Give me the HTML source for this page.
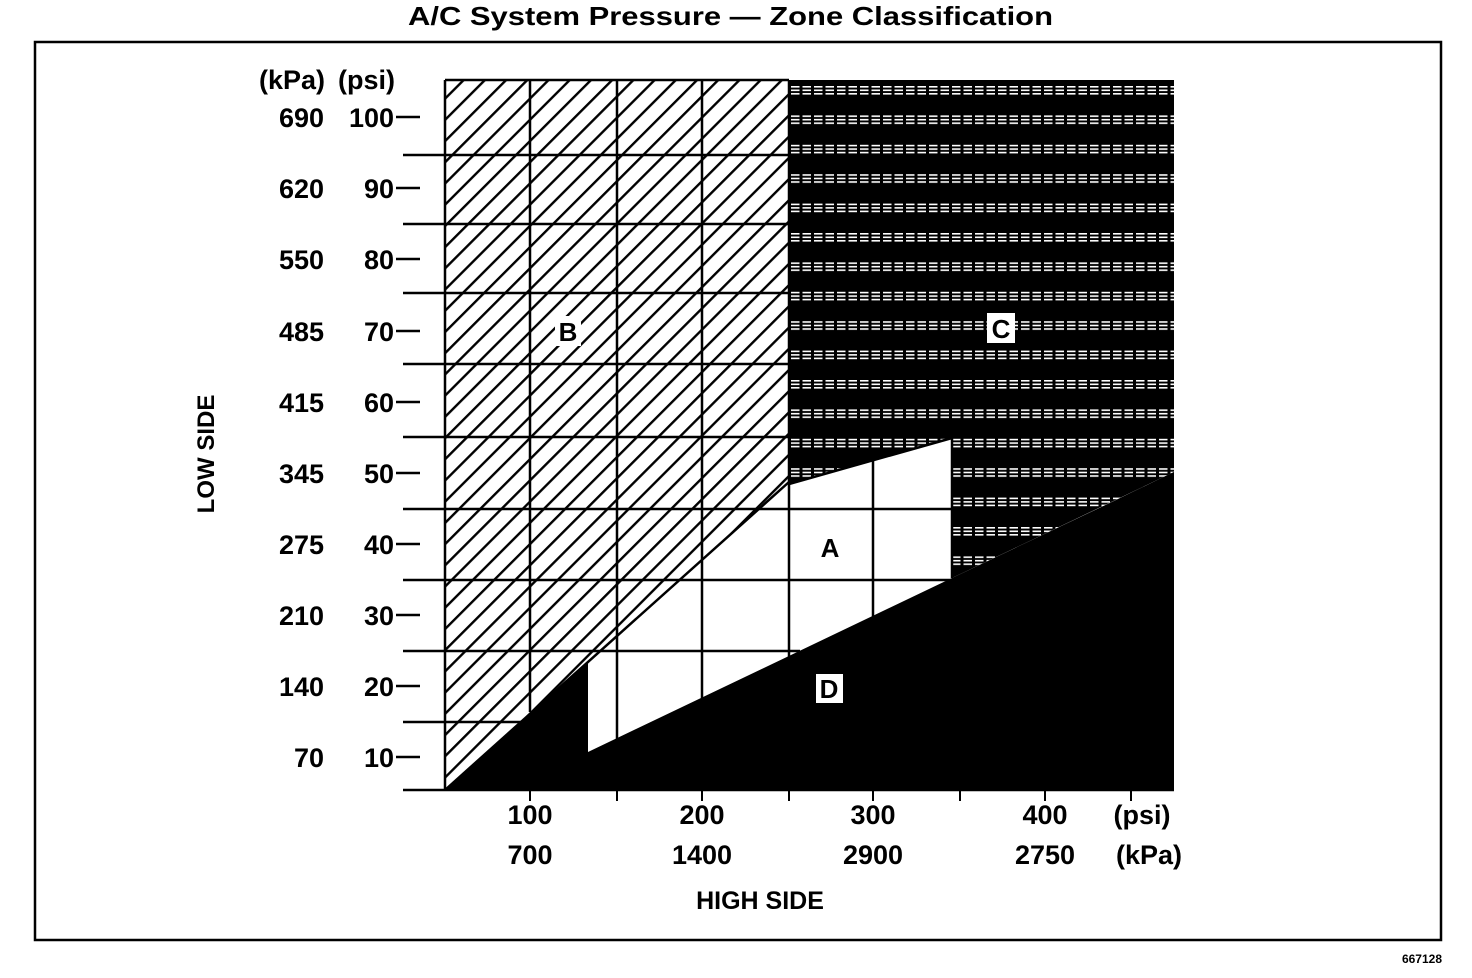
<!DOCTYPE html>
<html><head><meta charset="utf-8"><style>
html,body{margin:0;padding:0;background:#fff;}
svg{display:block;}
text{font-family:"Liberation Sans",sans-serif;font-weight:bold;fill:#000;}
</style></head><body>
<svg width="1472" height="978" viewBox="0 0 1472 978" xmlns="http://www.w3.org/2000/svg">
<defs>
<pattern id="hatch" patternUnits="userSpaceOnUse" width="15" height="15" patternTransform="rotate(45 445 790)">
<rect x="0" y="0" width="2.4" height="15" fill="#000"/>
</pattern>
<pattern id="dash" patternUnits="userSpaceOnUse" x="791" y="86" width="11.5" height="29.4">
<rect width="11.5" height="29.4" fill="#000"/>
<rect x="0" y="0" width="8.5" height="1.6" fill="#fff"/>
<rect x="0" y="3.5" width="8.5" height="1.6" fill="#fff"/>
<rect x="0" y="7" width="8.5" height="1.6" fill="#fff"/>
</pattern>
</defs>
<text x="408" y="25" font-size="26" textLength="645" lengthAdjust="spacingAndGlyphs">A/C System Pressure — Zone Classification</text>
<rect x="35" y="42" width="1406" height="898" fill="none" stroke="#000" stroke-width="2.5"/>
<text x="1442" y="963" text-anchor="end" font-size="12">667128</text>

<polygon points="445,80 789,80 789,482 445,790" fill="url(#hatch)"/>
<polygon points="789,80 1174,80 1174,472 952,578 952,438 789,484" fill="url(#dash)"/>
<polygon points="1174,472 1174,790 445,790 588,663 588,752 952,578 1116,500" fill="#000"/>
<polygon points="1110,503 1174,472 1174,505" fill="#000"/>

<g stroke="#000" stroke-width="2.5">
<line x1="403" y1="155" x2="789" y2="155"/>
<line x1="403" y1="224" x2="789" y2="224"/>
<line x1="403" y1="293" x2="789" y2="293"/>
<line x1="403" y1="364" x2="789" y2="364"/>
<line x1="403" y1="437" x2="952" y2="437"/>
<line x1="403" y1="509" x2="952" y2="509"/>
<line x1="403" y1="580" x2="952" y2="580"/>
<line x1="403" y1="651" x2="800" y2="651"/>
<line x1="403" y1="722" x2="540" y2="722"/>
<line x1="530" y1="80" x2="530" y2="712"/>
<line x1="617" y1="80" x2="617" y2="745"/>
<line x1="702" y1="80" x2="702" y2="700"/>
<line x1="789" y1="80" x2="789" y2="660"/>
<line x1="873" y1="455" x2="873" y2="620"/>
<line x1="445" y1="80" x2="445" y2="790"/>
<line x1="445" y1="80" x2="789" y2="80"/>
<line x1="952" y1="438" x2="952" y2="578"/>
<line x1="403" y1="790" x2="1174" y2="790"/>
<line x1="789" y1="484" x2="952" y2="438"/>
<line x1="445" y1="790" x2="789" y2="482"/>
</g>
<g stroke="#000" stroke-width="2">
<line x1="530" y1="790" x2="530" y2="801"/>
<line x1="617" y1="790" x2="617" y2="801"/>
<line x1="702" y1="790" x2="702" y2="801"/>
<line x1="789" y1="790" x2="789" y2="801"/>
<line x1="873" y1="790" x2="873" y2="801"/>
<line x1="960" y1="790" x2="960" y2="801"/>
<line x1="1045" y1="790" x2="1045" y2="801"/>
<line x1="1131" y1="790" x2="1131" y2="801"/>
</g>
<g stroke="#000" stroke-width="2.5">
<line x1="396" y1="117" x2="420" y2="117"/>
<line x1="396" y1="188" x2="420" y2="188"/>
<line x1="396" y1="259" x2="420" y2="259"/>
<line x1="396" y1="331" x2="420" y2="331"/>
<line x1="396" y1="402" x2="420" y2="402"/>
<line x1="396" y1="473" x2="420" y2="473"/>
<line x1="396" y1="544" x2="420" y2="544"/>
<line x1="396" y1="615" x2="420" y2="615"/>
<line x1="396" y1="686" x2="420" y2="686"/>
<line x1="396" y1="757" x2="420" y2="757"/>
</g>
<g font-size="27">
<text x="325" y="89" text-anchor="end">(kPa)</text>
<text x="395" y="89" text-anchor="end">(psi)</text>
<g text-anchor="end">
<text x="324" y="127">690</text><text x="394" y="127">100</text>
<text x="324" y="198">620</text><text x="394" y="198">90</text>
<text x="324" y="269">550</text><text x="394" y="269">80</text>
<text x="324" y="341">485</text><text x="394" y="341">70</text>
<text x="324" y="412">415</text><text x="394" y="412">60</text>
<text x="324" y="483">345</text><text x="394" y="483">50</text>
<text x="324" y="554">275</text><text x="394" y="554">40</text>
<text x="324" y="625">210</text><text x="394" y="625">30</text>
<text x="324" y="696">140</text><text x="394" y="696">20</text>
<text x="324" y="767">70</text><text x="394" y="767">10</text>
</g>
<g text-anchor="middle">
<text x="530" y="824">100</text><text x="702" y="824">200</text><text x="873" y="824">300</text><text x="1045" y="824">400</text><text x="1142" y="824">(psi)</text>
<text x="530" y="864">700</text><text x="702" y="864">1400</text><text x="873" y="864">2900</text><text x="1045" y="864">2750</text><text x="1149" y="864">(kPa)</text>
</g>
</g>
<text x="760" y="909" text-anchor="middle" font-size="25" font-weight="normal">HIGH SIDE</text>
<text transform="translate(214,454) rotate(-90)" text-anchor="middle" font-size="24" font-weight="normal">LOW SIDE</text>

<rect x="555" y="316" width="26" height="30" fill="#fff"/>
<text x="568" y="341" text-anchor="middle" font-size="26">B</text>
<rect x="987" y="313" width="28" height="30" fill="#fff"/>
<text x="1001" y="338" text-anchor="middle" font-size="26">C</text>
<text x="830" y="557" text-anchor="middle" font-size="26" font-weight="normal">A</text>
<rect x="816" y="674" width="27" height="29" fill="#fff"/>
<text x="829" y="698" text-anchor="middle" font-size="26">D</text>
</svg>
</body></html>
